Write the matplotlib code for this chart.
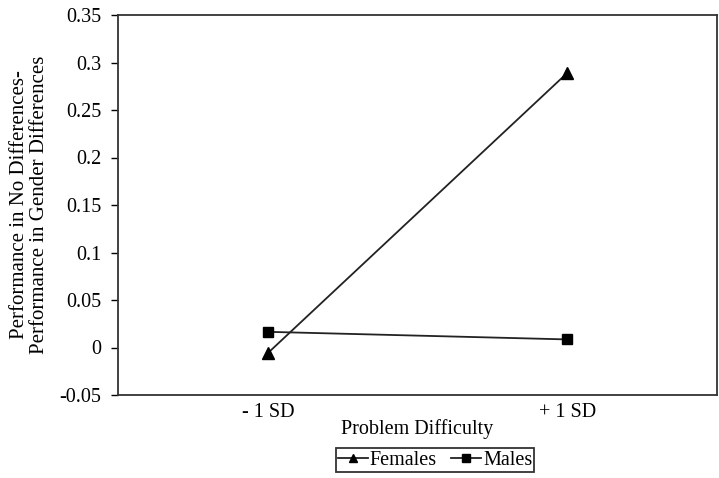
import matplotlib.pyplot as plt

plt.rcParams['font.family'] = ['Liberation Serif', 'DejaVu Serif']

categories = ["- 1 SD", "+ 1 SD"]
females = [-0.006, 0.289]
males = [0.0165, 0.0085]
yticks = [-0.05, 0, 0.05, 0.1, 0.15, 0.2, 0.25, 0.3, 0.35]
ytick_labels = ["-0.05", "0", "0.05", "0.1", "0.15", "0.2", "0.25", "0.3", "0.35"]

W, H = 719, 478
fig = plt.figure(figsize=(W / 100, H / 100), dpi=100)
ax = fig.add_axes([118 / W, 1 - 395 / H, (717 - 118) / W, (395 - 15) / H])

x = list(range(len(categories)))
ax.plot(x, females, color='#222222', linewidth=1.3, marker='^', markersize=8,
        markerfacecolor='black', markeredgecolor='black', label='Females')
ax.plot(x, males, color='#222222', linewidth=1.3, marker='s', markersize=7,
        markerfacecolor='black', markeredgecolor='black', label='Males')

ax.set_xlim(-0.5, 1.5)
ax.set_ylim(-0.05, 0.35)
ax.set_xticks(x)
ax.set_xticklabels(categories, fontsize=14.5)
ax.tick_params(axis='x', length=0, pad=6)
ax.set_yticks(yticks)
ax.set_yticklabels(ytick_labels, fontsize=14.5)
ax.tick_params(axis='y', direction='out', length=5, width=1, pad=7)
for s in ax.spines.values():
    s.set_color('#333333')
    s.set_linewidth(1.3)

ax.set_xlabel("Problem Difficulty", fontsize=14.5, labelpad=-2)
ax.set_ylabel("Performance in No Differences-\nPerformance in Gender Differences",
              fontsize=15, labelpad=10, linespacing=1.1)
ax.yaxis.set_label_coords(-0.115, 0.5)

leg = fig.legend(loc='center', bbox_to_anchor=(435 / W, 1 - 460 / H), ncol=2,
                 fontsize=14.5, frameon=True, fancybox=False, handlelength=1.5,
                 handletextpad=0.1, columnspacing=0.7, borderpad=0.1,
                 markerscale=0.8)
leg.get_frame().set_edgecolor('black')
leg.get_frame().set_linewidth(1.3)

fig.savefig('out.png', dpi=100)
